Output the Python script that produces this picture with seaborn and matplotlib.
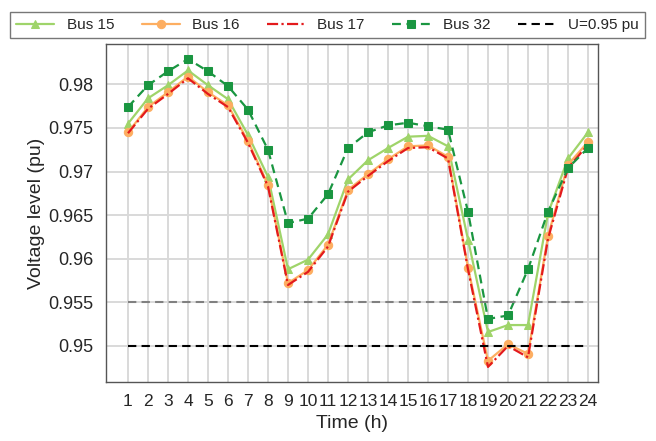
import matplotlib
matplotlib.use("Agg")
import matplotlib.pyplot as plt
import seaborn as sns
import pandas as pd

hours = list(range(1, 25))
bus15 = [0.9755, 0.9784, 0.9799, 0.9816, 0.9799, 0.9783, 0.9742, 0.9694, 0.9588, 0.9599,
         0.9628, 0.9691, 0.9713, 0.9727, 0.9740, 0.9741, 0.9729, 0.9622, 0.9516, 0.9524,
         0.9524, 0.9652, 0.9715, 0.9745]
bus16 = [0.9745, 0.9774, 0.9791, 0.9809, 0.9791, 0.9776, 0.9735, 0.9685, 0.9572, 0.9587,
         0.9616, 0.9679, 0.9697, 0.9714, 0.9729, 0.9730, 0.9717, 0.9590, 0.9483, 0.9502,
         0.9491, 0.9626, 0.9708, 0.9734]
bus17 = [0.9744, 0.9772, 0.9789, 0.9807, 0.9789, 0.9774, 0.9733, 0.9683, 0.9570, 0.9585,
         0.9614, 0.9677, 0.9695, 0.9712, 0.9727, 0.9728, 0.9715, 0.9588, 0.9476, 0.9500,
         0.9487, 0.9623, 0.9704, 0.9731]
bus32 = [0.9774, 0.9799, 0.9815, 0.9829, 0.9815, 0.9798, 0.9771, 0.9725, 0.9641, 0.9646,
         0.9674, 0.9727, 0.9745, 0.9753, 0.9756, 0.9752, 0.9748, 0.9654, 0.9531, 0.9535,
         0.9588, 0.9654, 0.9704, 0.9727]
limit_low = 0.95
limit_warn = 0.955
yticks = [0.95, 0.955, 0.96, 0.965, 0.97, 0.975, 0.98]
ytick_labels = ["0.95", "0.955", "0.96", "0.965", "0.97", "0.975", "0.98"]

df = pd.DataFrame({"Time": hours, "Bus 15": bus15, "Bus 16": bus16,
                   "Bus 17": bus17, "Bus 32": bus32})

sns.set_style("white")
plt.rcParams['font.family'] = ['Liberation Sans', 'DejaVu Sans']

fig = plt.figure(figsize=(6.56, 4.41), dpi=100)
ax = fig.add_axes([106/656, 1-382/441, (598-106)/656, (382-44)/441])

styles = [
    ("Bus 15", "#9fd46a", "-", "^", 6),
    ("Bus 16", "#fdae61", "-", "o", 6),
    ("Bus 17", "#e31a1c", (0, (5, 1.5, 1, 1.5)), None, 0),
    ("Bus 32", "#1a9641", (0, (4, 2.5)), "s", 6),
]
for name, color, ls, mk, ms in styles:
    sns.lineplot(data=df, x="Time", y=name, ax=ax, color=color, linestyle=ls,
                 marker=mk, markersize=ms, markeredgecolor=color, linewidth=1.6,
                 label=name, legend=False)

sns.lineplot(x=[hours[0], hours[-1]], y=[limit_warn, limit_warn], ax=ax,
             color="#808080", linestyle=(0, (4, 2.5)), linewidth=1.5, legend=False)
sns.lineplot(x=[hours[0], hours[-1]], y=[limit_low, limit_low], ax=ax,
             color="black", linestyle=(0, (4, 2.5)), linewidth=1.5,
             label="U=0.95 pu", legend=False)

ax.set_xlim(-0.1, 24.5)
ax.set_ylim(0.94587, 0.98463)
ax.set_xticks(hours)
ax.set_xticklabels([str(h) for h in hours], fontsize=12.5)
ax.set_yticks(yticks)
ax.set_yticklabels(ytick_labels, fontsize=13)
ax.grid(True, color="#d9d9d9", linewidth=1.4)
ax.set_axisbelow(True)
ax.tick_params(axis="both", direction="out", length=5, width=1, color="#333333", pad=4)
for s in ax.spines.values():
    s.set_color("#555555")
    s.set_linewidth(1)
ax.set_xlabel("Time (h)", fontsize=14, labelpad=4)
ax.set_ylabel("Voltage level (pu)", fontsize=14, labelpad=2)

handles, labels = ax.get_legend_handles_labels()
leg = fig.legend(handles, labels, ncol=5, loc="lower left",
                 bbox_to_anchor=(10/656, 1-38/441, 635/656, 33/441), mode="expand",
                 fontsize=11, frameon=True, fancybox=False, edgecolor="#555555",
                 handlelength=2.5, borderaxespad=0)
leg.get_frame().set_linewidth(1)

fig.savefig("out.png", dpi=100)
